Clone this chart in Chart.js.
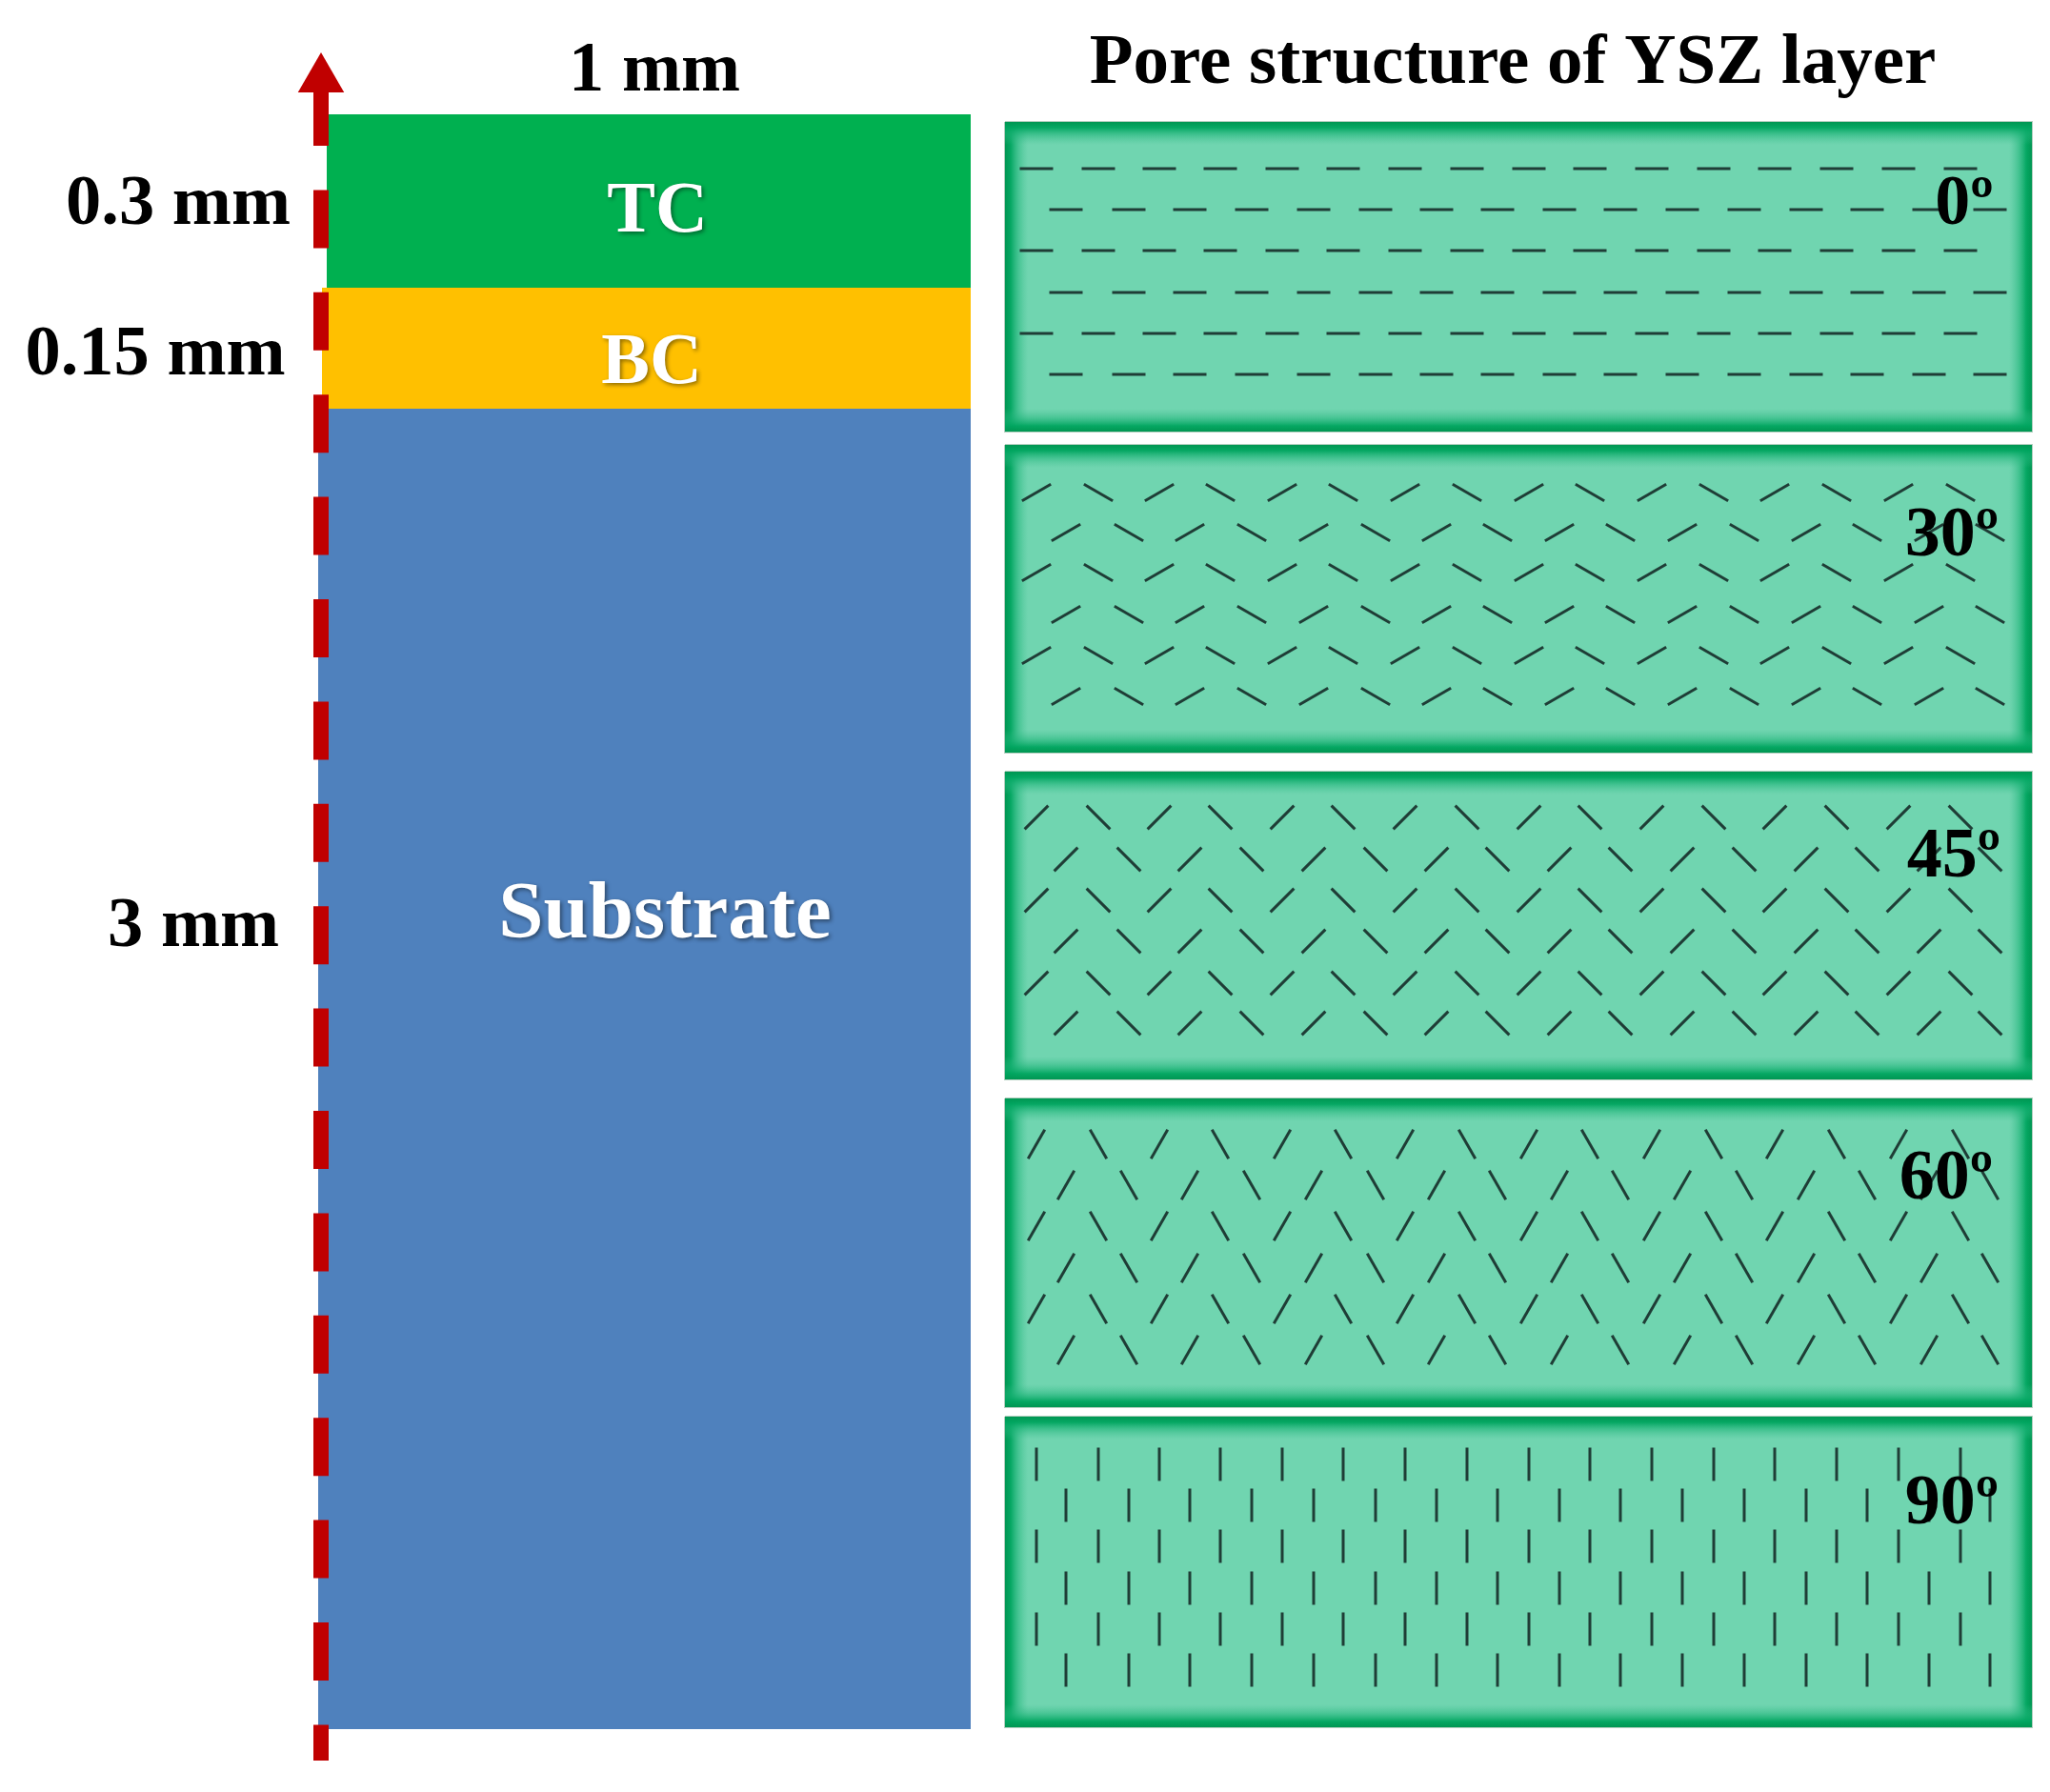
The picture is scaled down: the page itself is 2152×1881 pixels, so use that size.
<!DOCTYPE html>
<html>
<head>
<meta charset="utf-8">
<title>Pore structure of YSZ layer</title>
<script src="https://cdn.jsdelivr.net/npm/chart.js@4/dist/chart.umd.min.js"></script>
<style>
  html, body { margin: 0; padding: 0; background: #ffffff; }
  canvas { display: block; filter: blur(0.6px); }
</style>
</head>
<body>
<canvas id="coating-chart" width="2152" height="1881"></canvas>
<script>
// -------- Data --------------------------------- //

const layerNames = ['TC', 'BC', 'Substrate'];
const layerThickness = ['0.3 mm', '0.15 mm', '3 mm'];
const layerWidthLabel = '1 mm';
const poreTitle = 'Pore structure of YSZ layer';
const poreAngles = [0, 30, 45, 60, 90];

// layers, in picture coordinates
const layerLeft = [343, 338, 334];
const layerRight = [1019, 1019, 1019];
const layerTop = [120, 302, 429];
const layerBottom = [302, 429, 1815];

// pore panels
const panelLeft = 1055;
const panelRight = 2133;
const panelTop = [128, 467, 810, 1153, 1487];
const panelBottom = [453, 790, 1133, 1477, 1813];

// pore centres: rows per panel, columns for odd and even rows
const poreRows = [
    [177, 220, 263, 307, 350, 393],
    [517, 559, 601, 645, 688, 731],
    [858, 902, 945, 988, 1032, 1074],
    [1201, 1244, 1287, 1331, 1374, 1417],
    [1537, 1580, 1623, 1667, 1710, 1753]
];
const poreColumnsA = [1088, 1153, 1217, 1281, 1346, 1410, 1475, 1540, 1605, 1669, 1734, 1799, 1863, 1928, 1993, 2058];
const poreColumnsB = [1119, 1185, 1249, 1314, 1379, 1444, 1508, 1572, 1637, 1701, 1766, 1831, 1896, 1960, 2025, 2089];

// dashed arrow along the left side of the layers
const axisX = 337;
const axisStart = 1848;
const axisEnd = 92;
const arrowHeadY = 83;

// text anchors: [x centre, baseline]
const thicknessAnchors = [[187, 235], [163, 393], [203, 993]];
const layerLabelAnchors = [[690, 243], [684, 402], [698, 984]];
const angleAnchors = [[2062, 235], [2049, 583], [2051, 920], [2043, 1258], [2049, 1599]];

// -------- Datasets ------------ //

const rectPoints = (l, r, t, b) => [
    { x: l, y: t }, { x: r, y: t }, { x: r, y: b }, { x: l, y: b }, { x: l, y: t }
];

const layerColors = ['#00B050', '#FFC000', '#4F81BD'];
const datasets = [];

// the layers
layerNames.forEach((name, i) => {
    datasets.push({
        label: name,
        data: rectPoints(layerLeft[i], layerRight[i], layerTop[i], layerBottom[i]),
        fill: 'shape',
        backgroundColor: layerColors[i],
        borderWidth: 0,
        pointRadius: 0,
        order: 6
    });
});

// the red dashed axis and arrow head
datasets.push({
    label: 'axis',
    data: [{ x: axisX, y: axisEnd }, { x: axisX, y: axisStart }],
    borderColor: '#C00000',
    borderWidth: 16,
    borderDash: [61, 46.4],
    pointRadius: 0,
    order: 3
});
datasets.push({
    label: 'arrow',
    data: [{ x: axisX, y: arrowHeadY }],
    showLine: false,
    pointStyle: 'triangle',
    pointRadius: 28,
    pointBorderWidth: 0,
    pointBackgroundColor: '#C00000',
    order: 2
});

// the pore panels and their pores
poreAngles.forEach((angle, p) => {
    datasets.push({
        label: angle + ' panel',
        data: rectPoints(panelLeft, panelRight, panelTop[p], panelBottom[p]),
        fill: 'shape',
        backgroundColor: '#70D5B0',
        borderColor: '#b4cfc0',
        borderWidth: 2,
        pointRadius: 0,
        edgeGlow: true,
        order: 5
    });

    const points = [];
    const rotation = [];
    poreRows[p].forEach((y, r) => {
        const columns = r % 2 === 0 ? poreColumnsA : poreColumnsB;
        columns.forEach((x, c) => {
            points.push({ x: x, y: y });
            rotation.push(c % 2 === 0 ? -angle : angle);
        });
    });
    datasets.push({
        label: angle + ' pores',
        data: points,
        showLine: false,
        pointStyle: 'line',
        pointRadius: 17.5,
        pointBorderWidth: 3,
        pointBorderColor: '#1f3d36',
        pointRotation: rotation,
        order: 4
    });
});

// -------- Plugins for the panel shading and the text ------------ //

const edgeGlowPlugin = {
    id: 'edgeGlow',
    afterDatasetDraw(chart, args) {
        const dataset = chart.data.datasets[args.index];
        if (!dataset.edgeGlow) {
            return;
        }
        const { ctx, scales } = chart;
        const l = scales.x.getPixelForValue(dataset.data[0].x);
        const r = scales.x.getPixelForValue(dataset.data[1].x);
        const t = scales.y.getPixelForValue(dataset.data[0].y);
        const b = scales.y.getPixelForValue(dataset.data[2].y);
        const depth = 24;
        const bands = [
            [l, t, l + depth, t, l, t, depth, b - t],
            [r, t, r - depth, t, r - depth, t, depth, b - t],
            [l, t, l, t + depth, l, t, r - l, depth],
            [l, b, l, b - depth, l, b - depth, r - l, depth]
        ];
        ctx.save();
        bands.forEach(band => {
            const g = ctx.createLinearGradient(band[0], band[1], band[2], band[3]);
            g.addColorStop(0, 'rgba(0,150,82,1)');
            g.addColorStop(0.25, 'rgba(0,165,95,0.95)');
            g.addColorStop(0.6, 'rgba(30,180,120,0.5)');
            g.addColorStop(1, 'rgba(60,190,140,0)');
            ctx.fillStyle = g;
            ctx.fillRect(band[4], band[5], band[6], band[7]);
        });
        ctx.restore();
    }
};

const labelPlugin = {
    id: 'labels',
    afterDatasetsDraw(chart) {
        const { ctx, scales } = chart;
        const put = (text, anchor, size, color, shadow) => {
            ctx.save();
            ctx.font = 'bold ' + size + 'px "Liberation Serif"';
            ctx.textAlign = 'center';
            ctx.textBaseline = 'alphabetic';
            ctx.fillStyle = color;
            if (shadow) {
                ctx.shadowColor = 'rgba(0,0,0,0.45)';
                ctx.shadowBlur = 4;
                ctx.shadowOffsetX = 2;
                ctx.shadowOffsetY = 2;
            }
            ctx.fillText(text, scales.x.getPixelForValue(anchor[0]), scales.y.getPixelForValue(anchor[1]));
            ctx.restore();
        };

        put(layerWidthLabel, [687, 95], 74.5, '#000000');
        put(poreTitle, [1588, 87], 75, '#000000');
        layerThickness.forEach((text, i) => put(text, thicknessAnchors[i], 74.5, '#000000'));
        layerNames.forEach((text, i) => put(text, layerLabelAnchors[i], i === 2 ? 85 : 76, '#ffffff', true));
        poreAngles.forEach((angle, i) => put(angle + 'º', angleAnchors[i], 74, '#000000'));
    }
};

// -------- Chart ------------ //

new Chart(document.getElementById('coating-chart'), {
    type: 'line',
    data: { datasets: datasets },
    options: {
        responsive: false,
        devicePixelRatio: 1,
        animation: false,
        events: [],
        elements: { line: { tension: 0, borderCapStyle: 'butt' } },
        layout: { padding: 0, autoPadding: false },
        scales: {
            x: { type: 'linear', min: 0, max: 2152, display: false },
            y: { type: 'linear', min: 0, max: 1881, reverse: true, display: false }
        },
        plugins: {
            legend: { display: false },
            tooltip: { enabled: false }
        }
    },
    plugins: [edgeGlowPlugin, labelPlugin]
});
</script>
</body>
</html>
